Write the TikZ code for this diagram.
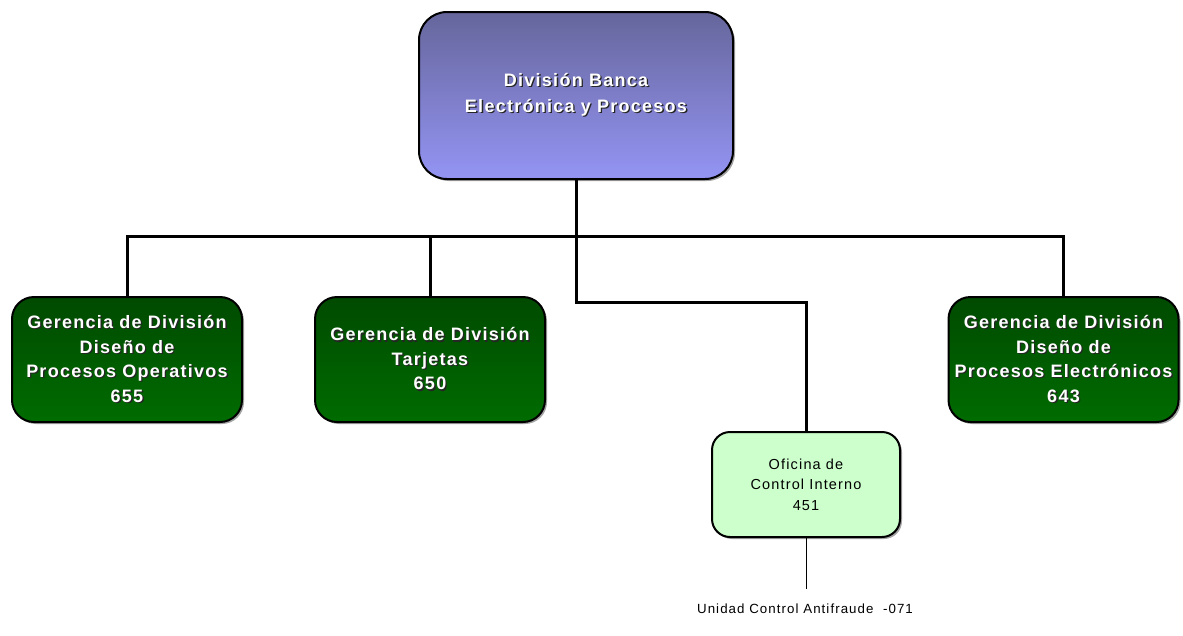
\documentclass[tikz,border=0pt]{standalone}
\usepackage{fontspec}
\usetikzlibrary{shadows}
\newfontfamily\headfont[LetterSpace=7]{Liberation Sans}
\newfontfamily\plainfont[LetterSpace=8]{Liberation Sans}
\definecolor{slatetop}{RGB}{102,102,156}
\definecolor{slatebot}{RGB}{148,148,244}
\definecolor{greentop}{RGB}{0,74,0}
\definecolor{greenbot}{RGB}{0,108,0}
\definecolor{mint}{RGB}{204,255,204}
% white line of text with a dark drop shadow behind it
\newcommand\shl[1]{\leavevmode\rlap{\kern1.3pt\raisebox{-1.3pt}{\textcolor{black!85}{#1}}}\textcolor{white}{#1}}
\tikzset{
  unitbox/.style={draw=black, line width=2pt, align=center, inner sep=0pt,
    drop shadow={shadow xshift=2pt, shadow yshift=-2pt, fill=black!45, opacity=0.8}},
  topbox/.style={unitbox, rounded corners=28pt, minimum width=314pt, minimum height=167pt,
    top color=slatetop, bottom color=slatebot, font=\headfont\bfseries\fontsize{18}{26}\selectfont},
  gerbox/.style={unitbox, rounded corners=22pt, minimum width=230pt, minimum height=125pt,
    top color=greentop, bottom color=greenbot, font=\headfont\bfseries\fontsize{18}{24.5}\selectfont},
  ofibox/.style={unitbox, rounded corners=18pt, minimum width=188pt, minimum height=105pt,
    fill=mint, font=\plainfont\fontsize{14.5}{20.5}\selectfont},
  conn/.style={draw=black, line width=3pt, line cap=rect},
  thin/.style={draw=black, line width=1pt}
}
\begin{document}
\begin{tikzpicture}[x=1pt, y=-1pt]
\useasboundingbox (0,0) rectangle (1183,635);

\node[topbox] (top) at (576,95.5) {\shl{División Banca}\\\shl{Electrónica y Procesos}};

\node[gerbox] (g1) at (127,359.5) {\shl{Gerencia de División}\\\shl{Diseño de}\\\shl{Procesos Operativos}\\\shl{655}};
\node[gerbox] (g2) at (430,359.5) {\shl{Gerencia de División}\\\shl{Tarjetas}\\\shl{650}};
\node[gerbox] (g4) at (1063.5,359.5) {\shl{Gerencia de División}\\\shl{Diseño de}\\\shl{Procesos Electrónicos}\\\shl{643}};

\node[ofibox] (ofi) at (806,484.5) {Oficina de\\Control Interno\\451};

\node[font=\plainfont\fontsize{13.3}{15}\selectfont, inner sep=0pt] (anti) at (805,609) {Unidad Control Antifraude\ \ -071};

\coordinate (bus) at (576,236);
\coordinate (elbow) at (576,302);
\coordinate (stub) at (806,589);

\begin{scope}[on background layer/.try]
\draw[conn] (top.south) -- (bus);
\draw[conn] (g1.north) |- (g4.north |- bus) -- (g4.north);
\draw[conn] (g2.north) -- (g2.north |- bus);
\draw[conn] (bus) -- (elbow) -| (ofi.north);
\draw[thin] (ofi.south) -- (stub);
\end{scope}
\end{tikzpicture}
\end{document}
